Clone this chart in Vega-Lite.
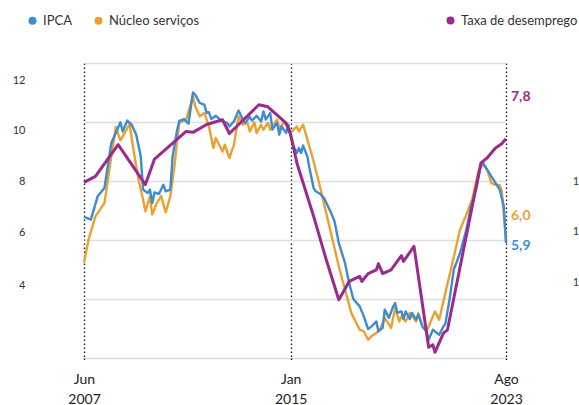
{
  "$schema": "https://vega.github.io/schema/vega-lite/v6.json",
  "width": 566,
  "height": 295,
  "autosize": {"type": "none"},
  "padding": {"left": 13, "top": 63, "right": 0, "bottom": 47},
  "config": {
    "view": {"stroke": null},
    "font": "Lato",
    "locale": {"number": {"decimal": ",", "thousands": ".", "grouping": [3], "currency": ["R$", ""]}}
  },
  "datasets": {
    "infl": [
      {"date": "2007-06-01", "serie": "IPCA", "valor": 6.78},
      {"date": "2007-09-01", "serie": "IPCA", "valor": 6.69},
      {"date": "2007-12-01", "serie": "IPCA", "valor": 7.48},
      {"date": "2008-03-01", "serie": "IPCA", "valor": 7.76},
      {"date": "2008-06-01", "serie": "IPCA", "valor": 9.29},
      {"date": "2008-08-01", "serie": "IPCA", "valor": 9.63},
      {"date": "2008-10-01", "serie": "IPCA", "valor": 9.99},
      {"date": "2008-11-01", "serie": "IPCA", "valor": 9.68},
      {"date": "2009-01-01", "serie": "IPCA", "valor": 10.05},
      {"date": "2009-03-01", "serie": "IPCA", "valor": 9.91},
      {"date": "2009-05-01", "serie": "IPCA", "valor": 9.57},
      {"date": "2009-07-01", "serie": "IPCA", "valor": 8.83},
      {"date": "2009-08-01", "serie": "IPCA", "valor": 7.71},
      {"date": "2009-10-01", "serie": "IPCA", "valor": 7.59},
      {"date": "2009-11-01", "serie": "IPCA", "valor": 7.71},
      {"date": "2009-12-01", "serie": "IPCA", "valor": 7.25},
      {"date": "2010-01-01", "serie": "IPCA", "valor": 7.61},
      {"date": "2010-03-01", "serie": "IPCA", "valor": 7.56},
      {"date": "2010-05-01", "serie": "IPCA", "valor": 7.87},
      {"date": "2010-06-01", "serie": "IPCA", "valor": 7.65},
      {"date": "2010-08-01", "serie": "IPCA", "valor": 7.71},
      {"date": "2010-09-01", "serie": "IPCA", "valor": 8.83},
      {"date": "2010-11-01", "serie": "IPCA", "valor": 9.74},
      {"date": "2010-12-01", "serie": "IPCA", "valor": 10.04},
      {"date": "2011-02-01", "serie": "IPCA", "valor": 10.1},
      {"date": "2011-04-01", "serie": "IPCA", "valor": 9.94},
      {"date": "2011-06-01", "serie": "IPCA", "valor": 11.0},
      {"date": "2011-07-01", "serie": "IPCA", "valor": 10.93},
      {"date": "2011-09-01", "serie": "IPCA", "valor": 10.64},
      {"date": "2011-11-01", "serie": "IPCA", "valor": 10.59},
      {"date": "2011-12-01", "serie": "IPCA", "valor": 10.31},
      {"date": "2012-01-01", "serie": "IPCA", "valor": 10.33},
      {"date": "2012-02-01", "serie": "IPCA", "valor": 10.1},
      {"date": "2012-04-01", "serie": "IPCA", "valor": 10.21},
      {"date": "2012-07-01", "serie": "IPCA", "valor": 10.02},
      {"date": "2012-09-01", "serie": "IPCA", "valor": 9.97},
      {"date": "2012-10-01", "serie": "IPCA", "valor": 9.85},
      {"date": "2012-12-01", "serie": "IPCA", "valor": 10.02},
      {"date": "2013-02-01", "serie": "IPCA", "valor": 10.39},
      {"date": "2013-04-01", "serie": "IPCA", "valor": 10.08},
      {"date": "2013-05-01", "serie": "IPCA", "valor": 9.97},
      {"date": "2013-07-01", "serie": "IPCA", "valor": 10.17},
      {"date": "2013-08-01", "serie": "IPCA", "valor": 10.05},
      {"date": "2013-10-01", "serie": "IPCA", "valor": 10.21},
      {"date": "2013-12-01", "serie": "IPCA", "valor": 10.02},
      {"date": "2014-01-01", "serie": "IPCA", "valor": 10.36},
      {"date": "2014-02-01", "serie": "IPCA", "valor": 10.08},
      {"date": "2014-04-01", "serie": "IPCA", "valor": 10.31},
      {"date": "2014-05-01", "serie": "IPCA", "valor": 9.74},
      {"date": "2014-07-01", "serie": "IPCA", "valor": 9.97},
      {"date": "2014-08-01", "serie": "IPCA", "valor": 9.57},
      {"date": "2014-09-01", "serie": "IPCA", "valor": 9.85},
      {"date": "2014-11-01", "serie": "IPCA", "valor": 9.63},
      {"date": "2014-12-01", "serie": "IPCA", "valor": 9.91},
      {"date": "2015-01-01", "serie": "IPCA", "valor": 9.51},
      {"date": "2015-02-01", "serie": "IPCA", "valor": 9.23},
      {"date": "2015-04-01", "serie": "IPCA", "valor": 8.95},
      {"date": "2015-05-01", "serie": "IPCA", "valor": 9.12},
      {"date": "2015-06-01", "serie": "IPCA", "valor": 8.95},
      {"date": "2015-07-01", "serie": "IPCA", "valor": 9.2},
      {"date": "2015-09-01", "serie": "IPCA", "valor": 8.83},
      {"date": "2015-10-01", "serie": "IPCA", "valor": 8.44},
      {"date": "2015-12-01", "serie": "IPCA", "valor": 7.76},
      {"date": "2016-01-01", "serie": "IPCA", "valor": 7.65},
      {"date": "2016-03-01", "serie": "IPCA", "valor": 7.57},
      {"date": "2016-05-01", "serie": "IPCA", "valor": 7.42},
      {"date": "2016-07-01", "serie": "IPCA", "valor": 7.12},
      {"date": "2016-08-01", "serie": "IPCA", "valor": 6.97},
      {"date": "2016-10-01", "serie": "IPCA", "valor": 6.63},
      {"date": "2016-12-01", "serie": "IPCA", "valor": 5.9},
      {"date": "2017-03-01", "serie": "IPCA", "valor": 5.22},
      {"date": "2017-05-01", "serie": "IPCA", "valor": 4.54},
      {"date": "2017-07-01", "serie": "IPCA", "valor": 4.0},
      {"date": "2017-10-01", "serie": "IPCA", "valor": 3.75},
      {"date": "2017-12-01", "serie": "IPCA", "valor": 3.41},
      {"date": "2018-02-01", "serie": "IPCA", "valor": 2.98},
      {"date": "2018-04-01", "serie": "IPCA", "valor": 3.09},
      {"date": "2018-06-01", "serie": "IPCA", "valor": 3.24},
      {"date": "2018-07-01", "serie": "IPCA", "valor": 2.9},
      {"date": "2018-09-01", "serie": "IPCA", "valor": 3.02},
      {"date": "2018-10-01", "serie": "IPCA", "valor": 3.64},
      {"date": "2018-12-01", "serie": "IPCA", "valor": 3.36},
      {"date": "2019-02-01", "serie": "IPCA", "valor": 3.75},
      {"date": "2019-03-01", "serie": "IPCA", "valor": 3.86},
      {"date": "2019-04-01", "serie": "IPCA", "valor": 3.53},
      {"date": "2019-06-01", "serie": "IPCA", "valor": 3.58},
      {"date": "2019-07-01", "serie": "IPCA", "valor": 3.32},
      {"date": "2019-08-01", "serie": "IPCA", "valor": 3.58},
      {"date": "2019-10-01", "serie": "IPCA", "valor": 3.32},
      {"date": "2019-11-01", "serie": "IPCA", "valor": 3.53},
      {"date": "2020-01-01", "serie": "IPCA", "valor": 3.3},
      {"date": "2020-02-01", "serie": "IPCA", "valor": 3.47},
      {"date": "2020-04-01", "serie": "IPCA", "valor": 3.07},
      {"date": "2020-06-01", "serie": "IPCA", "valor": 2.9},
      {"date": "2020-07-01", "serie": "IPCA", "valor": 2.62},
      {"date": "2020-09-01", "serie": "IPCA", "valor": 2.96},
      {"date": "2020-10-01", "serie": "IPCA", "valor": 2.9},
      {"date": "2020-12-01", "serie": "IPCA", "valor": 2.79},
      {"date": "2021-02-01", "serie": "IPCA", "valor": 3.07},
      {"date": "2021-03-01", "serie": "IPCA", "valor": 3.16},
      {"date": "2021-05-01", "serie": "IPCA", "valor": 3.98},
      {"date": "2021-07-01", "serie": "IPCA", "valor": 4.99},
      {"date": "2021-10-01", "serie": "IPCA", "valor": 5.56},
      {"date": "2022-01-01", "serie": "IPCA", "valor": 6.35},
      {"date": "2022-03-01", "serie": "IPCA", "valor": 7.03},
      {"date": "2022-06-01", "serie": "IPCA", "valor": 7.82},
      {"date": "2022-08-01", "serie": "IPCA", "valor": 8.55},
      {"date": "2022-09-01", "serie": "IPCA", "valor": 8.61},
      {"date": "2022-11-01", "serie": "IPCA", "valor": 8.38},
      {"date": "2023-01-01", "serie": "IPCA", "valor": 8.16},
      {"date": "2023-05-01", "serie": "IPCA", "valor": 7.71},
      {"date": "2023-07-01", "serie": "IPCA", "valor": 7.14},
      {"date": "2023-08-01", "serie": "IPCA", "valor": 5.9},
      {"date": "2007-06-01", "serie": "Núcleo serviços", "valor": 5.24},
      {"date": "2007-08-01", "serie": "Núcleo serviços", "valor": 6.01},
      {"date": "2007-11-01", "serie": "Núcleo serviços", "valor": 6.8},
      {"date": "2008-03-01", "serie": "Núcleo serviços", "valor": 7.25},
      {"date": "2008-06-01", "serie": "Núcleo serviços", "valor": 8.83},
      {"date": "2008-08-01", "serie": "Núcleo serviços", "valor": 9.83},
      {"date": "2008-10-01", "serie": "Núcleo serviços", "valor": 9.38},
      {"date": "2008-12-01", "serie": "Núcleo serviços", "valor": 9.65},
      {"date": "2009-02-01", "serie": "Núcleo serviços", "valor": 9.93},
      {"date": "2009-04-01", "serie": "Núcleo serviços", "valor": 8.95},
      {"date": "2009-06-01", "serie": "Núcleo serviços", "valor": 8.04},
      {"date": "2009-08-01", "serie": "Núcleo serviços", "valor": 7.37},
      {"date": "2009-09-01", "serie": "Núcleo serviços", "valor": 6.97},
      {"date": "2009-11-01", "serie": "Núcleo serviços", "valor": 7.48},
      {"date": "2009-12-01", "serie": "Núcleo serviços", "valor": 6.86},
      {"date": "2010-02-01", "serie": "Núcleo serviços", "valor": 7.25},
      {"date": "2010-04-01", "serie": "Núcleo serviços", "valor": 7.5},
      {"date": "2010-05-01", "serie": "Núcleo serviços", "valor": 7.2},
      {"date": "2010-06-01", "serie": "Núcleo serviços", "valor": 6.94},
      {"date": "2010-08-01", "serie": "Núcleo serviços", "valor": 7.48},
      {"date": "2010-10-01", "serie": "Núcleo serviços", "valor": 8.61},
      {"date": "2010-11-01", "serie": "Núcleo serviços", "valor": 9.4},
      {"date": "2010-12-01", "serie": "Núcleo serviços", "valor": 9.97},
      {"date": "2011-03-01", "serie": "Núcleo serviços", "valor": 10.08},
      {"date": "2011-06-01", "serie": "Núcleo serviços", "valor": 10.87},
      {"date": "2011-07-01", "serie": "Núcleo serviços", "valor": 10.53},
      {"date": "2011-09-01", "serie": "Núcleo serviços", "valor": 10.19},
      {"date": "2011-11-01", "serie": "Núcleo serviços", "valor": 10.31},
      {"date": "2012-01-01", "serie": "Núcleo serviços", "valor": 9.85},
      {"date": "2012-03-01", "serie": "Núcleo serviços", "valor": 9.12},
      {"date": "2012-04-01", "serie": "Núcleo serviços", "valor": 9.46},
      {"date": "2012-07-01", "serie": "Núcleo serviços", "valor": 9.0},
      {"date": "2012-08-01", "serie": "Núcleo serviços", "valor": 9.23},
      {"date": "2012-10-01", "serie": "Núcleo serviços", "valor": 8.78},
      {"date": "2012-12-01", "serie": "Núcleo serviços", "valor": 9.23},
      {"date": "2013-02-01", "serie": "Núcleo serviços", "valor": 10.19},
      {"date": "2013-04-01", "serie": "Núcleo serviços", "valor": 9.91},
      {"date": "2013-06-01", "serie": "Núcleo serviços", "valor": 9.97},
      {"date": "2013-07-01", "serie": "Núcleo serviços", "valor": 9.68},
      {"date": "2013-09-01", "serie": "Núcleo serviços", "valor": 9.99},
      {"date": "2013-10-01", "serie": "Núcleo serviços", "valor": 9.63},
      {"date": "2013-12-01", "serie": "Núcleo serviços", "valor": 9.91},
      {"date": "2014-01-01", "serie": "Núcleo serviços", "valor": 9.74},
      {"date": "2014-03-01", "serie": "Núcleo serviços", "valor": 9.97},
      {"date": "2014-04-01", "serie": "Núcleo serviços", "valor": 9.74},
      {"date": "2014-07-01", "serie": "Núcleo serviços", "valor": 10.08},
      {"date": "2014-08-01", "serie": "Núcleo serviços", "valor": 9.8},
      {"date": "2014-10-01", "serie": "Núcleo serviços", "valor": 9.97},
      {"date": "2014-12-01", "serie": "Núcleo serviços", "valor": 9.84},
      {"date": "2015-01-01", "serie": "Núcleo serviços", "valor": 9.65},
      {"date": "2015-04-01", "serie": "Núcleo serviços", "valor": 9.85},
      {"date": "2015-05-01", "serie": "Núcleo serviços", "valor": 9.68},
      {"date": "2015-07-01", "serie": "Núcleo serviços", "valor": 9.91},
      {"date": "2015-09-01", "serie": "Núcleo serviços", "valor": 9.4},
      {"date": "2015-12-01", "serie": "Núcleo serviços", "valor": 8.66},
      {"date": "2016-03-01", "serie": "Núcleo serviços", "valor": 7.82},
      {"date": "2016-06-01", "serie": "Núcleo serviços", "valor": 6.92},
      {"date": "2016-09-01", "serie": "Núcleo serviços", "valor": 6.01},
      {"date": "2016-12-01", "serie": "Núcleo serviços", "valor": 5.11},
      {"date": "2017-03-01", "serie": "Núcleo serviços", "valor": 4.32},
      {"date": "2017-06-01", "serie": "Núcleo serviços", "valor": 3.53},
      {"date": "2017-10-01", "serie": "Núcleo serviços", "valor": 2.96},
      {"date": "2017-12-01", "serie": "Núcleo serviços", "valor": 2.9},
      {"date": "2018-02-01", "serie": "Núcleo serviços", "valor": 2.62},
      {"date": "2018-04-01", "serie": "Núcleo serviços", "valor": 2.76},
      {"date": "2018-06-01", "serie": "Núcleo serviços", "valor": 2.85},
      {"date": "2018-08-01", "serie": "Núcleo serviços", "valor": 3.02},
      {"date": "2018-10-01", "serie": "Núcleo serviços", "valor": 3.36},
      {"date": "2019-01-01", "serie": "Núcleo serviços", "valor": 3.02},
      {"date": "2019-03-01", "serie": "Núcleo serviços", "valor": 3.69},
      {"date": "2019-05-01", "serie": "Núcleo serviços", "valor": 3.24},
      {"date": "2019-06-01", "serie": "Núcleo serviços", "valor": 3.41},
      {"date": "2019-08-01", "serie": "Núcleo serviços", "valor": 3.24},
      {"date": "2019-10-01", "serie": "Núcleo serviços", "valor": 3.53},
      {"date": "2020-01-01", "serie": "Núcleo serviços", "valor": 3.24},
      {"date": "2020-02-01", "serie": "Núcleo serviços", "valor": 3.53},
      {"date": "2020-04-01", "serie": "Núcleo serviços", "valor": 3.07},
      {"date": "2020-06-01", "serie": "Núcleo serviços", "valor": 2.9},
      {"date": "2020-07-01", "serie": "Núcleo serviços", "valor": 3.07},
      {"date": "2020-10-01", "serie": "Núcleo serviços", "valor": 3.58},
      {"date": "2020-12-01", "serie": "Núcleo serviços", "valor": 3.3},
      {"date": "2021-03-01", "serie": "Núcleo serviços", "valor": 4.2},
      {"date": "2021-06-01", "serie": "Núcleo serviços", "valor": 5.11},
      {"date": "2021-10-01", "serie": "Núcleo serviços", "valor": 6.35},
      {"date": "2022-01-01", "serie": "Núcleo serviços", "valor": 6.86},
      {"date": "2022-04-01", "serie": "Núcleo serviços", "valor": 7.42},
      {"date": "2022-07-01", "serie": "Núcleo serviços", "valor": 8.38},
      {"date": "2022-09-01", "serie": "Núcleo serviços", "valor": 8.55},
      {"date": "2022-11-01", "serie": "Núcleo serviços", "valor": 8.38},
      {"date": "2023-01-01", "serie": "Núcleo serviços", "valor": 7.93},
      {"date": "2023-03-01", "serie": "Núcleo serviços", "valor": 7.87},
      {"date": "2023-05-01", "serie": "Núcleo serviços", "valor": 7.87},
      {"date": "2023-06-01", "serie": "Núcleo serviços", "valor": 7.65},
      {"date": "2023-08-01", "serie": "Núcleo serviços", "valor": 6.0}
    ],
    "desemp": [
      {"date": "2007-06-01", "serie": "Taxa de desemprego", "valor": 9.26},
      {"date": "2007-11-01", "serie": "Taxa de desemprego", "valor": 9.06},
      {"date": "2008-09-01", "serie": "Taxa de desemprego", "valor": 8.0},
      {"date": "2009-09-01", "serie": "Taxa de desemprego", "valor": 9.33},
      {"date": "2010-01-01", "serie": "Taxa de desemprego", "valor": 8.48},
      {"date": "2011-03-01", "serie": "Taxa de desemprego", "valor": 7.56},
      {"date": "2011-06-01", "serie": "Taxa de desemprego", "valor": 7.59},
      {"date": "2011-12-01", "serie": "Taxa de desemprego", "valor": 7.33},
      {"date": "2012-07-01", "serie": "Taxa de desemprego", "valor": 7.17},
      {"date": "2012-10-01", "serie": "Taxa de desemprego", "valor": 7.63},
      {"date": "2013-11-01", "serie": "Taxa de desemprego", "valor": 6.67},
      {"date": "2014-03-01", "serie": "Taxa de desemprego", "valor": 6.74},
      {"date": "2014-11-01", "serie": "Taxa de desemprego", "valor": 7.28},
      {"date": "2015-01-01", "serie": "Taxa de desemprego", "valor": 7.67},
      {"date": "2015-04-01", "serie": "Taxa de desemprego", "valor": 8.61},
      {"date": "2015-12-01", "serie": "Taxa de desemprego", "valor": 10.39},
      {"date": "2016-06-01", "serie": "Taxa de desemprego", "valor": 11.83},
      {"date": "2016-12-01", "serie": "Taxa de desemprego", "valor": 13.17},
      {"date": "2017-05-01", "serie": "Taxa de desemprego", "valor": 12.56},
      {"date": "2017-10-01", "serie": "Taxa de desemprego", "valor": 12.39},
      {"date": "2017-11-01", "serie": "Taxa de desemprego", "valor": 12.56},
      {"date": "2018-02-01", "serie": "Taxa de desemprego", "valor": 12.3},
      {"date": "2018-06-01", "serie": "Taxa de desemprego", "valor": 12.17},
      {"date": "2018-07-01", "serie": "Taxa de desemprego", "valor": 11.97},
      {"date": "2018-09-01", "serie": "Taxa de desemprego", "valor": 12.3},
      {"date": "2019-01-01", "serie": "Taxa de desemprego", "valor": 12.17},
      {"date": "2019-06-01", "serie": "Taxa de desemprego", "valor": 11.7},
      {"date": "2019-07-01", "serie": "Taxa de desemprego", "valor": 11.89},
      {"date": "2019-12-01", "serie": "Taxa de desemprego", "valor": 11.39},
      {"date": "2020-07-01", "serie": "Taxa de desemprego", "valor": 14.75},
      {"date": "2020-09-01", "serie": "Taxa de desemprego", "valor": 14.67},
      {"date": "2020-10-01", "serie": "Taxa de desemprego", "valor": 14.92},
      {"date": "2021-02-01", "serie": "Taxa de desemprego", "valor": 14.28},
      {"date": "2021-04-01", "serie": "Taxa de desemprego", "valor": 14.17},
      {"date": "2022-08-01", "serie": "Taxa de desemprego", "valor": 8.61},
      {"date": "2022-11-01", "serie": "Taxa de desemprego", "valor": 8.44},
      {"date": "2023-03-01", "serie": "Taxa de desemprego", "valor": 8.11},
      {"date": "2023-06-01", "serie": "Taxa de desemprego", "valor": 7.97},
      {"date": "2023-08-01", "serie": "Taxa de desemprego", "valor": 7.8}
    ]
  },
  "encoding": {
    "x": {
      "field": "date",
      "type": "temporal",
      "scale": {
        "domain": [
          {"year": 2007, "month": 6, "date": 1, "utc": true},
          {"year": 2023, "month": 8, "date": 1, "utc": true}
        ],
        "domainRaw": {"expr": "[utc(2007,5,1), utc(2015,0,1), utc(2023,7,1)]"},
        "range": [71, 277.7, 493],
        "nice": false
      },
      "axis": {
        "values": [
          {"year": 2007, "month": 6, "date": 1, "utc": true},
          {"year": 2015, "month": 1, "date": 1, "utc": true},
          {"year": 2023, "month": 8, "date": 1, "utc": true}
        ],
        "title": null,
        "domain": false,
        "grid": true,
        "gridColor": "#111111",
        "gridDash": [1.5, 2.5],
        "gridWidth": 1.3,
        "ticks": true,
        "tickColor": "#111111",
        "tickDash": [1.5, 2.5],
        "tickWidth": 1.3,
        "tickSize": 3,
        "labelExpr": "[['Jan','Fev','Mar','Abr','Mai','Jun','Jul','Ago','Set','Out','Nov','Dez'][utcmonth(datum.value)], utcFormat(datum.value, '%Y')]",
        "labelFontSize": 14,
        "labelColor": "#222222",
        "labelLineHeight": 20,
        "labelPadding": 11,
        "labelBaseline": "top",
        "labelFlush": false,
        "labelOverlap": false
      }
    }
  },
  "layer": [
    {
      "data": {"name": "infl"},
      "encoding": {
        "y": {
          "field": "valor",
          "type": "quantitative",
          "scale": {"domain": [2, 12], "nice": false, "zero": false},
          "axis": {
            "orient": "left",
            "values": [2, 4, 6, 8, 10, 12],
            "title": null,
            "domain": false,
            "ticks": false,
            "grid": true,
            "gridColor": "#dedede",
            "gridWidth": 1.3,
            "labelPadding": -12,
            "labelFontSize": 11,
            "labelColor": "#333333",
            "labelExpr": "datum.value == 2 ? '' : datum.label",
            "labelOffset": {
              "condition": [
                {"test": "datum.value == 12", "value": 17.7},
                {"test": "datum.value == 10", "value": 8.7},
                {"test": "datum.value == 6", "value": -7.7},
                {"test": "datum.value == 4", "value": -14}
              ],
              "value": 0
            }
          }
        }
      },
      "layer": [
        {
          "transform": [{"filter": "datum.serie == 'Núcleo serviços'"}],
          "mark": {"type": "line", "strokeWidth": 2.4, "strokeJoin": "round"},
          "encoding": {
            "color": {
              "field": "serie",
              "type": "nominal",
              "scale": {"domain": ["IPCA", "Núcleo serviços"], "range": ["#3d8bd0", "#eba02f"]},
              "legend": {
                "title": null,
                "orient": "none",
                "legendX": 13,
                "legendY": -49,
                "direction": "horizontal",
                "symbolType": "circle",
                "symbolSize": 16,
                "symbolStrokeWidth": 4,
                "labelFontSize": 13,
                "labelColor": "#333333",
                "labelFont": "Lato",
                "columnPadding": 16,
                "padding": 0,
                "labelOffset": 4
              }
            }
          }
        },
        {
          "transform": [{"filter": "datum.serie == 'IPCA'"}],
          "mark": {"type": "line", "strokeWidth": 2.4, "strokeJoin": "round"},
          "encoding": {
            "color": {
              "field": "serie",
              "type": "nominal",
              "scale": {"domain": ["IPCA", "Núcleo serviços"], "range": ["#3d8bd0", "#eba02f"]},
              "legend": {
                "title": null,
                "orient": "none",
                "legendX": 13,
                "legendY": -49,
                "direction": "horizontal",
                "symbolType": "circle",
                "symbolSize": 16,
                "symbolStrokeWidth": 4,
                "labelFontSize": 13,
                "labelColor": "#333333",
                "labelFont": "Lato",
                "columnPadding": 16,
                "padding": 0,
                "labelOffset": 4
              }
            }
          }
        },
        {
          "transform": [{"filter": "datum.serie == 'Núcleo serviços' && utcyear(datum.date) == 2023 && utcmonth(datum.date) == 7"}],
          "mark": {"type": "text", "align": "left", "baseline": "middle", "dx": 5, "dy": -24, "fontWeight": "bold", "fontSize": 14, "color": "#eba02f"},
          "encoding": {"text": {"field": "valor", "type": "quantitative", "format": ".1f"}}
        },
        {
          "transform": [{"filter": "datum.serie == 'IPCA' && utcyear(datum.date) == 2023 && utcmonth(datum.date) == 7"}],
          "mark": {"type": "text", "align": "left", "baseline": "middle", "dx": 5, "dy": 3, "fontWeight": "bold", "fontSize": 14, "color": "#3d8bd0"},
          "encoding": {"text": {"field": "valor", "type": "quantitative", "format": ".1f"}}
        }
      ]
    },
    {
      "data": {"name": "desemp"},
      "encoding": {
        "y": {
          "field": "valor",
          "type": "quantitative",
          "scale": {"domain": [5.28, 15.11], "reverse": true, "nice": false, "zero": false},
          "axis": {
            "orient": "right",
            "values": [6, 8, 10, 12, 14],
            "title": null,
            "domain": false,
            "ticks": false,
            "grid": false,
            "labelPadding": 6,
            "labelAlign": "right",
            "labelFontSize": 11,
            "labelColor": "#333333",
            "labelOffset": {
              "condition": [
                {"test": "datum.value == 6", "value": -4.3},
                {"test": "datum.value == 8", "value": -14.3},
                {"test": "datum.value == 10", "value": -23.3},
                {"test": "datum.value == 12", "value": -32.7},
                {"test": "datum.value == 14", "value": -42}
              ],
              "value": 0
            }
          }
        }
      },
      "layer": [
        {
          "mark": {"type": "line", "strokeWidth": 3, "strokeJoin": "round"},
          "encoding": {
            "color": {
              "field": "serie",
              "type": "nominal",
              "scale": {"domain": ["Taxa de desemprego"], "range": ["#9a2a8e"]},
              "legend": {
                "title": null,
                "orient": "none",
                "legendX": 431,
                "legendY": -49,
                "direction": "horizontal",
                "symbolType": "circle",
                "symbolSize": 16,
                "symbolStrokeWidth": 4,
                "labelFontSize": 13,
                "labelColor": "#333333",
                "labelFont": "Lato",
                "padding": 0,
                "labelOffset": 4
              }
            }
          }
        },
        {
          "transform": [{"filter": "utcyear(datum.date) == 2023 && utcmonth(datum.date) == 7"}],
          "mark": {"type": "text", "align": "left", "baseline": "middle", "dx": 5, "dy": -41.5, "fontWeight": "bold", "fontSize": 14, "color": "#9a2a8e"},
          "encoding": {"text": {"field": "valor", "type": "quantitative", "format": ".1f"}}
        }
      ]
    }
  ],
  "resolve": {
    "scale": {"y": "independent", "color": "independent"},
    "axis": {"y": "independent"},
    "legend": {"color": "independent"}
  }
}
